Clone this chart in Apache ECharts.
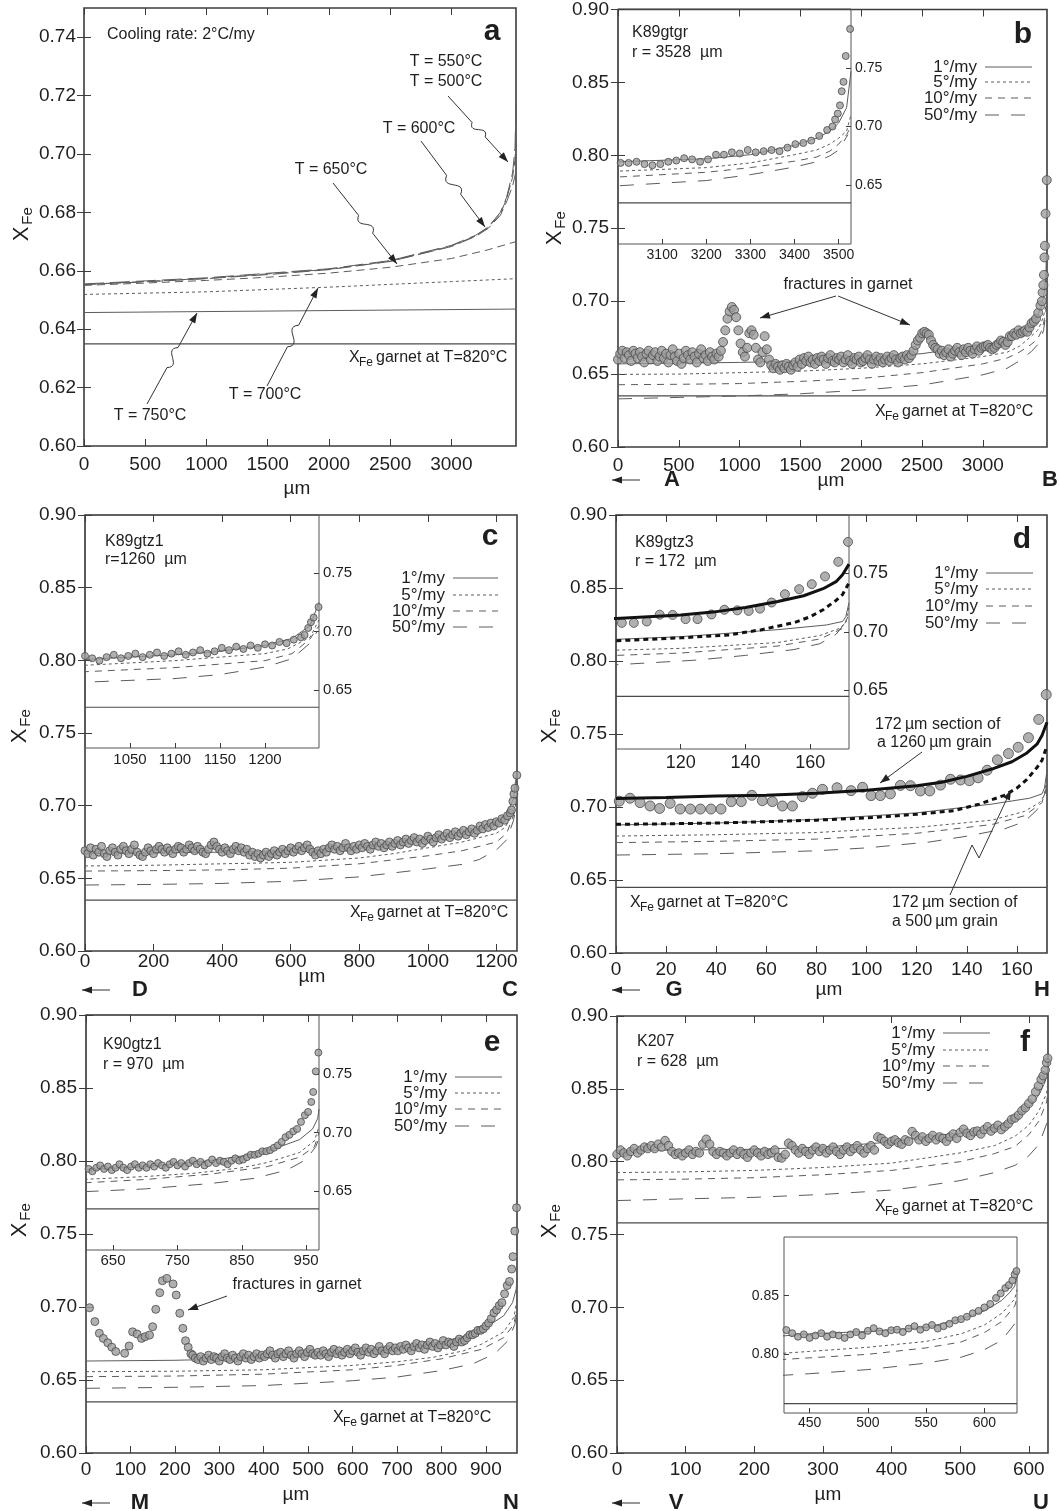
<!DOCTYPE html>
<html>
<head>
<meta charset="utf-8">
<script src="https://cdn.jsdelivr.net/npm/echarts@6/dist/echarts.min.js"></script>
<style>
html, body { margin: 0; padding: 0; background: #fff; }
#chart { width: 1060px; height: 1511px; }
</style>
</head>
<body>
<div id="chart"></div>
<script>
const FONT = '"Liberation Sans", Arial, Helvetica, sans-serif';
const INK = '#1e1e1e', FRAME = '#3c3c3c', CURVE = '#5c5c5c';
const D5 = [3, 3], D10 = [7, 6], D50 = [14, 12];

// ---------- panel a : model profiles, cooling rate 2°C/my
const aGarnet = 0.635;
const a750 = [[0, 0.6457], [3528, 0.6469]];
const a700 = [[0, 0.6519], [1000, 0.6528], [2000, 0.6544], [3000, 0.6563], [3528, 0.6573]];
const a650 = [[0, 0.655], [500, 0.6558], [1000, 0.6567], [1500, 0.6578], [2000, 0.6592], [2500, 0.6612], [3000, 0.6642], [3300, 0.6672], [3528, 0.670]];
const a600 = [[0, 0.6553], [500, 0.6562], [1000, 0.6573], [1500, 0.6587], [2000, 0.6604], [2500, 0.6632], [3000, 0.6683], [3200, 0.6718], [3300, 0.6745], [3400, 0.679], [3450, 0.6835], [3500, 0.689], [3528, 0.694]];
const a550 = [[0, 0.6553], [1000, 0.6574], [2000, 0.6605], [2500, 0.6633], [3000, 0.6685], [3200, 0.672], [3300, 0.6748], [3400, 0.6795], [3450, 0.6845], [3500, 0.692], [3520, 0.698], [3528, 0.706]];
const a500 = [[0, 0.6555], [1000, 0.6576], [2000, 0.6607], [2500, 0.6635], [3000, 0.6687], [3200, 0.6722], [3300, 0.675], [3400, 0.680], [3450, 0.685], [3500, 0.6935], [3520, 0.702], [3528, 0.718]];

// ---------- panel b : K89gtgr, r = 3528 µm
const bGarnet = 0.635;
const b1 = [[0, 0.657], [500, 0.6575], [1000, 0.658], [1500, 0.659], [2000, 0.661], [2500, 0.664], [3000, 0.670], [3200, 0.6725], [3300, 0.676], [3400, 0.684], [3450, 0.690], [3480, 0.696], [3500, 0.703], [3518, 0.716], [3528, 0.747]];
const b5 = [[0, 0.6498], [500, 0.650], [1000, 0.651], [1500, 0.652], [2000, 0.654], [2500, 0.657], [3000, 0.662], [3200, 0.665], [3300, 0.669], [3400, 0.676], [3450, 0.680], [3480, 0.685], [3500, 0.690], [3518, 0.696], [3528, 0.710]];
const b10 = [[0, 0.6427], [500, 0.643], [1000, 0.6435], [1500, 0.645], [2000, 0.647], [2500, 0.651], [3000, 0.657], [3200, 0.661], [3300, 0.665], [3400, 0.6705], [3450, 0.674], [3480, 0.679], [3500, 0.685], [3518, 0.693], [3528, 0.700]];
const b50 = [[0, 0.633], [500, 0.634], [1000, 0.635], [1500, 0.6365], [2000, 0.639], [2500, 0.6425], [3000, 0.6495], [3200, 0.654], [3300, 0.659], [3400, 0.6655], [3450, 0.670], [3480, 0.675], [3500, 0.680], [3521, 0.693]];
const bStep = 18;
const bY = [
  0.660, 0.664, 0.666, 0.661, 0.665, 0.663, 0.659, 0.666, 0.664, 0.661,
  0.665, 0.662, 0.658, 0.664, 0.666, 0.660, 0.663, 0.665, 0.659, 0.662,
  0.666, 0.661, 0.664, 0.658, 0.663, 0.667, 0.662, 0.659, 0.664, 0.657,
  0.661, 0.666, 0.663, 0.660, 0.665, 0.662, 0.658, 0.664, 0.667, 0.661,
  0.663, 0.659, 0.665, 0.662, 0.660, 0.664, 0.662, 0.666,
  0.672, 0.680, 0.688, 0.693, 0.696, 0.694, 0.689, 0.680, 0.671, 0.665,
  0.662, 0.668, 0.678, 0.680, 0.677, 0.668, 0.660, 0.658, 0.665, 0.676, 0.667, 0.660,
  0.656, 0.654, 0.657, 0.655, 0.653, 0.656, 0.654, 0.657, 0.655, 0.653, 0.656, 0.658, 0.655,
  0.660, 0.657, 0.661, 0.659, 0.662, 0.658, 0.660, 0.657, 0.661, 0.659,
  0.662, 0.660, 0.657, 0.661, 0.663, 0.659, 0.658, 0.661, 0.660, 0.662,
  0.658, 0.660, 0.663, 0.659, 0.657, 0.661, 0.660, 0.662, 0.658, 0.659,
  0.661, 0.663, 0.660, 0.657, 0.660, 0.662, 0.659, 0.661, 0.658, 0.660,
  0.662, 0.659, 0.661, 0.663, 0.660, 0.658, 0.661, 0.662, 0.660, 0.663, 0.661,
  0.663, 0.666, 0.670, 0.673, 0.675, 0.678, 0.679, 0.678, 0.677, 0.673, 0.670, 0.668,
  0.667, 0.664, 0.666, 0.663, 0.665, 0.667, 0.662, 0.664, 0.666, 0.668,
  0.665, 0.663, 0.667, 0.665, 0.668, 0.666, 0.664, 0.667, 0.669, 0.666, 0.668,
  0.669, 0.669, 0.670, 0.668, 0.667, 0.668, 0.670, 0.671, 0.673, 0.672,
  0.670, 0.672, 0.676, 0.676, 0.678, 0.677, 0.680, 0.678, 0.679, 0.680,
  0.679, 0.682, 0.685, 0.686, 0.688, 0.692, 0.697
];
const bRim = [[3486, 0.700], [3492, 0.706], [3498, 0.711], [3503, 0.718], [3507, 0.730], [3511, 0.738], [3516, 0.760], [3526, 0.783]];

// ---------- panel c : K89gtz1, r = 1260 µm
const cGarnet = 0.635;
const c1 = [[0, 0.667], [200, 0.6675], [400, 0.668], [600, 0.669], [800, 0.671], [1000, 0.676], [1100, 0.680], [1150, 0.683], [1200, 0.688], [1230, 0.694], [1250, 0.705], [1260, 0.725]];
const c5 = [[0, 0.6585], [200, 0.659], [400, 0.660], [600, 0.661], [800, 0.664], [900, 0.667], [1000, 0.671], [1100, 0.675], [1200, 0.681], [1225, 0.685], [1250, 0.695], [1260, 0.710]];
const c10 = [[0, 0.655], [200, 0.6553], [400, 0.6558], [600, 0.657], [800, 0.660], [1000, 0.6655], [1100, 0.669], [1200, 0.675], [1230, 0.681], [1250, 0.6935], [1260, 0.705]];
const c50 = [[0, 0.6454], [200, 0.6458], [400, 0.6465], [600, 0.648], [800, 0.651], [1000, 0.6565], [1100, 0.6596], [1150, 0.663], [1200, 0.6695], [1230, 0.6766], [1250, 0.690], [1258, 0.700]];
const cStep = 8;
const cY = [
  0.669, 0.667, 0.671, 0.666, 0.670, 0.668, 0.672, 0.667, 0.665, 0.669,
  0.671, 0.668, 0.666, 0.670, 0.672, 0.669, 0.667, 0.670, 0.673, 0.668,
  0.666, 0.665, 0.668, 0.671, 0.669, 0.667, 0.670, 0.672, 0.670, 0.668,
  0.671, 0.669, 0.667, 0.670, 0.672, 0.671, 0.668, 0.670, 0.673, 0.671,
  0.669, 0.672, 0.670, 0.668, 0.667, 0.670, 0.673, 0.675, 0.672, 0.670,
  0.668, 0.671, 0.669, 0.667, 0.670, 0.672, 0.669, 0.671, 0.668, 0.670,
  0.666, 0.668, 0.665, 0.667, 0.664, 0.666, 0.668, 0.665, 0.667, 0.669,
  0.666, 0.668, 0.670, 0.667, 0.669, 0.671, 0.668, 0.670, 0.672, 0.669,
  0.671, 0.673, 0.670, 0.668, 0.666, 0.669, 0.667, 0.670, 0.668, 0.671,
  0.673, 0.670, 0.672, 0.669, 0.671, 0.674, 0.671, 0.669, 0.672, 0.670,
  0.673, 0.671, 0.674, 0.672, 0.670, 0.673, 0.675, 0.672, 0.674, 0.671,
  0.673, 0.675, 0.672, 0.674, 0.676, 0.673, 0.675, 0.677, 0.674, 0.676,
  0.678, 0.675, 0.677, 0.674, 0.676, 0.679, 0.677, 0.675, 0.678, 0.680,
  0.677, 0.679, 0.681, 0.678, 0.680, 0.682, 0.679, 0.681, 0.683, 0.680,
  0.682, 0.684, 0.681, 0.683, 0.686, 0.684, 0.687, 0.685, 0.688, 0.686,
  0.689, 0.688, 0.691, 0.690, 0.693, 0.695
];
const cRim = [[1244, 0.697], [1248, 0.703], [1251, 0.708], [1254, 0.712], [1259.5, 0.721]];

// ---------- panel d : K89gtz3, r = 172 µm
const dGarnet = 0.645;
const dGrain1260 = [[0, 0.7059], [20, 0.7065], [40, 0.7075], [60, 0.708], [80, 0.7095], [100, 0.7115], [120, 0.7145], [130, 0.717], [140, 0.721], [150, 0.726], [158, 0.731], [164, 0.737], [168, 0.743], [170, 0.749], [172, 0.758]];
const dGrain500 = [[0, 0.6881], [20, 0.6885], [40, 0.689], [60, 0.690], [80, 0.691], [100, 0.6925], [120, 0.695], [135, 0.6975], [145, 0.702], [155, 0.708], [160, 0.713], [164, 0.719], [168, 0.727], [170, 0.732], [172, 0.742]];
const d1 = [[0, 0.6877], [40, 0.689], [80, 0.6915], [120, 0.696], [150, 0.702], [165, 0.706], [170, 0.709], [171, 0.713], [172, 0.725]];
const d5 = [[0, 0.6801], [40, 0.681], [80, 0.6825], [100, 0.6845], [120, 0.686], [150, 0.691], [163, 0.697], [169, 0.703], [171, 0.708], [172, 0.722]];
const d10 = [[0, 0.6756], [40, 0.6765], [80, 0.678], [100, 0.680], [120, 0.682], [150, 0.688], [163, 0.694], [170, 0.703], [172, 0.715]];
const d50 = [[0, 0.6671], [40, 0.668], [80, 0.670], [100, 0.672], [125, 0.676], [140, 0.680], [155, 0.685], [163, 0.690], [168, 0.698], [172, 0.712]];
const dPts = [
  [1.3, 0.704], [5.6, 0.706], [9.6, 0.703], [13.6, 0.7007], [17.4, 0.699], [21.6, 0.7025], [25.6, 0.6986], [29.7, 0.6986],
  [33.7, 0.6986], [37.9, 0.6986], [41.9, 0.6986], [46, 0.7037], [50, 0.7037], [54.2, 0.708], [58.4, 0.7043], [62.4, 0.7037],
  [66.4, 0.7007], [70.4, 0.7007], [74.4, 0.7071], [78.4, 0.7094], [82.4, 0.7121], [88.2, 0.7132], [93.8, 0.7112], [98.4, 0.7135],
  [101.8, 0.7078], [105.5, 0.7078], [109.5, 0.709], [113.5, 0.7148], [117.5, 0.7146], [121.5, 0.711], [125.2, 0.711], [129.5, 0.715],
  [133.5, 0.719], [137.5, 0.7185], [141, 0.718], [144.5, 0.720], [148.1, 0.7252], [152.2, 0.7323], [156.6, 0.7366], [160.5, 0.7409],
  [164.6, 0.7475], [168.7, 0.760], [171.7, 0.777]
];

// ---------- panel e : K90gtz1, r = 970 µm
const eGarnet = 0.635;
const e1 = [[0, 0.663], [200, 0.6635], [400, 0.665], [600, 0.668], [700, 0.671], [800, 0.676], [850, 0.680], [900, 0.686], [940, 0.694], [960, 0.703], [968, 0.712], [970, 0.720]];
const e5 = [[0, 0.6557], [200, 0.656], [400, 0.657], [600, 0.660], [700, 0.6625], [780, 0.6655], [850, 0.670], [890, 0.6745], [940, 0.683], [963, 0.693], [970, 0.705]];
const e10 = [[0, 0.6523], [200, 0.6527], [400, 0.654], [600, 0.657], [700, 0.660], [800, 0.6645], [890, 0.671], [940, 0.679], [963, 0.688], [970, 0.700]];
const e50 = [[0, 0.6443], [200, 0.645], [400, 0.6462], [600, 0.6495], [700, 0.652], [800, 0.6565], [870, 0.661], [920, 0.668], [950, 0.677], [965, 0.688], [970, 0.695]];
const eLeft = [[8, 0.6995], [20, 0.690], [30, 0.682], [39, 0.6785], [49, 0.6755], [58, 0.6725], [67, 0.6695], [87, 0.6683], [97, 0.6733],
  [105, 0.683], [115, 0.6815], [125, 0.6785], [133, 0.6797], [143, 0.6808], [150, 0.6865], [157, 0.6984], [166, 0.7098], [172, 0.718],
  [182, 0.7196], [196, 0.7158], [203, 0.7082], [211, 0.6957], [218, 0.6854], [224, 0.6769], [230, 0.6724], [236, 0.668]];
const eStart = 240, eStep = 6;
const eY = [
  0.667, 0.665, 0.664, 0.666, 0.663, 0.665, 0.667, 0.664, 0.666, 0.665,
  0.663, 0.666, 0.668, 0.665, 0.664, 0.667, 0.665, 0.663, 0.666, 0.668,
  0.665, 0.667, 0.664, 0.666, 0.668, 0.665, 0.667,
  0.666, 0.668, 0.670, 0.667, 0.665, 0.668, 0.669, 0.666, 0.668, 0.670,
  0.667, 0.665, 0.668, 0.670, 0.668, 0.666, 0.669, 0.671, 0.668, 0.667,
  0.669, 0.667, 0.670, 0.668, 0.666, 0.669, 0.671, 0.668, 0.670, 0.667,
  0.669, 0.671, 0.668, 0.670, 0.672, 0.669, 0.667, 0.670, 0.672, 0.669,
  0.671, 0.668, 0.670, 0.673, 0.670, 0.668, 0.671, 0.673, 0.670, 0.672,
  0.670, 0.673, 0.671, 0.674, 0.672, 0.670, 0.673, 0.675, 0.672, 0.674,
  0.671, 0.674, 0.676, 0.673, 0.675, 0.672, 0.674, 0.677, 0.674, 0.676,
  0.675, 0.673, 0.676, 0.678, 0.676,
  0.677, 0.679, 0.681, 0.681, 0.682, 0.684, 0.684, 0.685, 0.687, 0.689, 0.692, 0.696, 0.698, 0.701, 0.703
];
const eRim = [[942, 0.709], [948, 0.7147], [953, 0.7175], [958, 0.726], [961, 0.7345], [965, 0.752], [969, 0.768]];

// ---------- panel f : K207, r = 628 µm
const fGarnet = 0.758;
const f1 = [[0, 0.8075], [100, 0.808], [200, 0.8085], [300, 0.810], [400, 0.8135], [450, 0.8175], [500, 0.8195], [550, 0.823], [580, 0.830], [600, 0.837], [615, 0.846], [622, 0.853], [626, 0.858], [628, 0.866]];
const f5 = [[0, 0.7925], [100, 0.793], [200, 0.794], [300, 0.796], [400, 0.799], [450, 0.8025], [500, 0.806], [550, 0.811], [580, 0.8175], [600, 0.825], [615, 0.835], [626, 0.847], [628, 0.855]];
const f10 = [[0, 0.7875], [100, 0.788], [200, 0.789], [300, 0.791], [400, 0.794], [450, 0.797], [500, 0.800], [550, 0.8055], [580, 0.8105], [600, 0.8185], [615, 0.828], [626, 0.841], [628, 0.848]];
const f50 = [[0, 0.7733], [100, 0.7745], [200, 0.7755], [300, 0.7775], [400, 0.7805], [450, 0.7835], [500, 0.787], [550, 0.7925], [580, 0.7975], [600, 0.804], [615, 0.812], [626, 0.826], [628, 0.835]];
const fStep = 5;
const fY = [
  0.805, 0.808, 0.806, 0.804, 0.807, 0.809, 0.806, 0.808, 0.810, 0.809,
  0.811, 0.809, 0.812, 0.810, 0.8145, 0.811, 0.807, 0.805, 0.806, 0.804,
  0.806, 0.808, 0.805, 0.807, 0.806, 0.812, 0.8154, 0.812, 0.807, 0.805,
  0.807, 0.806, 0.804, 0.806, 0.808, 0.805, 0.807, 0.805, 0.803, 0.806,
  0.808, 0.806, 0.804, 0.807, 0.805, 0.806, 0.808, 0.803, 0.8025, 0.805,
  0.8127, 0.811, 0.808, 0.806, 0.809, 0.807, 0.805, 0.808, 0.810, 0.807,
  0.809, 0.806, 0.808, 0.810, 0.807, 0.805, 0.808, 0.810, 0.807, 0.809,
  0.811, 0.808, 0.806, 0.809, 0.811, 0.808, 0.817, 0.816, 0.814, 0.812,
  0.814, 0.815, 0.813, 0.812, 0.815, 0.814, 0.8207, 0.818, 0.815, 0.817,
  0.814, 0.816, 0.818, 0.815, 0.817, 0.816, 0.814, 0.817, 0.819, 0.816,
  0.820, 0.8223, 0.8195, 0.818, 0.8205, 0.821, 0.819, 0.822, 0.824, 0.821,
  0.823, 0.825, 0.822, 0.824, 0.826, 0.829, 0.830, 0.832, 0.835, 0.837,
  0.840
];
const fRim = [[605, 0.843], [610, 0.848], [614, 0.852], [618, 0.8565], [621, 0.859], [624, 0.863], [626, 0.868], [627.5, 0.871]];

// tick values
const ticksA_x = [0, 500, 1000, 1500, 2000, 2500, 3000];
const ticksA_y = [0.60, 0.62, 0.64, 0.66, 0.68, 0.70, 0.72, 0.74];
const ticksMain_y = [0.60, 0.65, 0.70, 0.75, 0.80, 0.85, 0.90];
const ticksInset_y = [0.65, 0.70, 0.75];

const bPts = bY.map((v, i) => [i * bStep, v]).concat(bRim);
const cPts = cY.map((v, i) => [i * cStep, v]).concat(cRim);
const ePts = eLeft.concat(eY.map((v, i) => [eStart + i * eStep, v]), eRim);
const fPts = fY.map((v, i) => [i * fStep, v]).concat(fRim);

const grids = [], xAxes = [], yAxes = [], series = [], graphics = [];

function panel(p) {
  const gi = grids.length;
  grids.push({ left: p.box[0], top: p.box[1], width: p.box[2], height: p.box[3], show: true,
    borderColor: p.inset ? '#555' : FRAME, borderWidth: p.inset ? 1 : 1.6, backgroundColor: 'transparent' });
  const tick = vals => ({ show: true, inside: true, length: p.inset ? 5 : 7, customValues: vals, lineStyle: { color: FRAME, width: 1 } });
  const lab = (vals, m, f) => ({ show: true, customValues: vals, margin: m, fontSize: p.fs, fontFamily: FONT, color: INK, formatter: f });
  const ax = { x: xAxes.length, y: yAxes.length };
  xAxes.push({ gridIndex: gi, type: 'value', min: p.x[0], max: p.x[1], position: 'bottom',
    axisLine: { show: false }, splitLine: { show: false }, axisTick: tick(p.xt), axisLabel: lab(p.xt, p.xm, v => String(v)) });
  yAxes.push({ gridIndex: gi, type: 'value', min: p.y[0], max: p.y[1], position: p.yPos || 'left',
    axisLine: { show: false }, splitLine: { show: false }, axisTick: tick(p.yt), axisLabel: lab(p.yt, p.ym, v => v.toFixed(2)) });
  if (!p.inset) {
    xAxes.push({ gridIndex: gi, type: 'value', min: p.x[0], max: p.x[1], position: 'top',
      axisLine: { show: false }, splitLine: { show: false }, axisTick: tick(p.xt), axisLabel: { show: false } });
    yAxes.push({ gridIndex: gi, type: 'value', min: p.y[0], max: p.y[1], position: 'right',
      axisLine: { show: false }, splitLine: { show: false }, axisTick: tick(p.yt), axisLabel: { show: false } });
  }
  ax.xr = p.x;
  return ax;
}

function line(ax, data, type, width, color, z) {
  series.push({ type: 'line', xAxisIndex: ax.x, yAxisIndex: ax.y, data: data, showSymbol: false, symbol: 'none',
    clip: true, silent: true, animation: false, z: z || 3,
    lineStyle: { color: color || CURVE, width: width || 1, type: type || 'solid' } });
}
function garnet(ax, g) { line(ax, [[ax.xr[0], g], [ax.xr[1], g]], 'solid', 1.2, '#4a4a4a'); }
function dots(ax, data, size) {
  series.push({ type: 'scatter', xAxisIndex: ax.x, yAxisIndex: ax.y, data: data, symbolSize: size, clip: true,
    silent: true, animation: false, z: 4, itemStyle: { color: '#9c9c9c', borderColor: '#4a4a4a', borderWidth: 1 } });
}
function models(ax, c1, c5, c10, c50) {
  line(ax, c50, D50); line(ax, c10, D10); line(ax, c5, D5); line(ax, c1, 'solid');
}

// ---------- graphics helpers (annotations)
function txt(x, y, s, o) {
  o = o || {};
  const st = { text: s, fill: INK, fontSize: o.size || 16, fontFamily: FONT, fontWeight: o.bold ? 'bold' : 'normal',
    align: o.align || 'left', verticalAlign: 'middle', textAlign: o.align || 'left', textVerticalAlign: 'middle' };
  graphics.push({ type: 'text', x: x, y: y, rotation: o.rot || 0, style: st, z: 100, silent: true });
}
function head(x, y, ang) {
  const len = 10, w = 3.5;
  const bx = x - Math.cos(ang) * len, by = y - Math.sin(ang) * len;
  const nx = -Math.sin(ang) * w, ny = Math.cos(ang) * w;
  graphics.push({ type: 'polygon', shape: { points: [[x, y], [bx + nx, by + ny], [bx - nx, by - ny]] }, style: { fill: '#222' }, z: 100, silent: true });
}
function seg(x1, y1, x2, y2) {
  graphics.push({ type: 'line', shape: { x1: x1, y1: y1, x2: x2, y2: y2 }, style: { stroke: '#333', lineWidth: 1 }, z: 100, silent: true });
}
function arrow(x1, y1, x2, y2) {
  seg(x1, y1, x2, y2);
  head(x2, y2, Math.atan2(y2 - y1, x2 - x1));
}
function wavy(x1, y1, x2, y2) {
  const dx = x2 - x1, dy = y2 - y1, L = Math.hypot(dx, dy);
  const ux = dx / L, uy = dy / L, nx = -uy, ny = ux, a = L * 0.13;
  const A = [x1 + dx * 0.40, y1 + dy * 0.40], B = [x1 + dx * 0.62, y1 + dy * 0.62];
  seg(x1, y1, A[0], A[1]);
  graphics.push({ type: 'bezierCurve', shape: { x1: A[0], y1: A[1], x2: B[0], y2: B[1],
    cpx1: A[0] + ux * L * 0.08 + nx * a, cpy1: A[1] + uy * L * 0.08 + ny * a,
    cpx2: B[0] - ux * L * 0.08 - nx * a, cpy2: B[1] - uy * L * 0.08 - ny * a },
    style: { stroke: '#333', lineWidth: 1, fill: null }, z: 100, silent: true });
  seg(B[0], B[1], x2, y2);
  head(x2, y2, Math.atan2(dy, dx));
}
function xfe(cx, cy) {
  txt(cx, cy + 8, 'X', { size: 22, align: 'center', rot: Math.PI / 2 });
  txt(cx + 6, cy - 10, 'Fe', { size: 15, align: 'center', rot: Math.PI / 2 });
}
function garnetLabel(x, y) {
  txt(x, y, 'X', { size: 16 });
  txt(x + 10, y + 5, 'Fe', { size: 12 });
  txt(x + 27, y, 'garnet at T=820°C', { size: 16 });
}
function legend(xr, x1, x2, ys) {
  const names = ['1°/my', '5°/my', '10°/my', '50°/my'];
  const dash = [null, D5, D10, D50];
  names.forEach((n, i) => {
    txt(xr, ys[i], n, { size: 17, align: 'right' });
    graphics.push({ type: 'line', shape: { x1: x1, y1: ys[i], x2: x2, y2: ys[i] }, style: { stroke: CURVE, lineWidth: 1, lineDash: dash[i] }, z: 100, silent: true });
  });
}
function ends(ax1, ax2, y, left, right, lx, rx) {
  arrow(ax2, y, ax1, y);
  txt(lx, y, left, { size: 22, bold: true, align: 'center' });
  txt(rx, y, right, { size: 22, bold: true, align: 'center' });
}

// ---------- panel a
const pa = panel({ box: [84, 8, 432, 438], x: [0, 3528], y: [0.60, 0.75], xt: ticksA_x, yt: ticksA_y, fs: 19, xm: 9, ym: 8 });
garnet(pa, aGarnet);
line(pa, a750, 'solid');
line(pa, a700, D5);
line(pa, a650, [8, 5]);
line(pa, a600, [16, 5]);
line(pa, a550, [12, 4]);
line(pa, a500, [20, 6]);
txt(107, 35, 'Cooling rate: 2°C/my', { size: 16 });
txt(492, 32, 'a', { size: 30, bold: true, align: 'center' });
txt(446, 62, 'T = 550°C', { size: 16, align: 'center' });
txt(446, 82, 'T = 500°C', { size: 16, align: 'center' });
txt(419, 129, 'T = 600°C', { size: 16, align: 'center' });
txt(331, 170, 'T = 650°C', { size: 16, align: 'center' });
txt(150, 416, 'T = 750°C', { size: 16, align: 'center' });
txt(265, 395, 'T = 700°C', { size: 16, align: 'center' });
wavy(448, 96, 508, 162);
wavy(421, 141, 485, 227);
wavy(333, 183, 397, 264);
wavy(147, 404, 197, 313);
wavy(267, 386, 318, 288);
garnetLabel(349, 358);
xfe(22, 226);
txt(297, 489, 'µm', { size: 19, align: 'center' });

// ---------- panel b
const pb = panel({ box: [618, 9, 429, 438], x: [0, 3528], y: [0.60, 0.90], xt: ticksA_x, yt: ticksMain_y, fs: 19, xm: 9, ym: 9 });
const pbI = panel({ inset: true, box: [618, 9, 233, 235], x: [3000, 3528], y: [0.60, 0.80], xt: [3100, 3200, 3300, 3400, 3500], yt: ticksInset_y, yPos: 'right', fs: 14, xm: 4, ym: 4 });
[pb, pbI].forEach(ax => { garnet(ax, bGarnet); models(ax, b1, b5, b10, b50); });
dots(pb, bPts, 9);
dots(pbI, bPts, 7);
txt(632, 33, 'K89gtgr', { size: 16 });
txt(632, 53, 'r = 3528  µm', { size: 16 });
txt(1023, 35, 'b', { size: 30, bold: true, align: 'center' });
legend(977, 985, 1032, [67, 82, 98, 115]);
txt(848, 285, 'fractures in garnet', { size: 16, align: 'center' });
arrow(836, 296, 760, 318);
arrow(838, 296, 910, 325);
garnetLabel(875, 412);
xfe(555, 230);
txt(831, 481, 'µm', { size: 19, align: 'center' });
ends(612, 640, 480, 'A', 'B', 672, 1050);

// ---------- panel c
const pc = panel({ box: [85, 515, 432, 436], x: [0, 1260], y: [0.60, 0.90], xt: [0, 200, 400, 600, 800, 1000, 1200], yt: ticksMain_y, fs: 19, xm: 1, ym: 9 });
const pcI = panel({ inset: true, box: [85, 515, 234, 233], x: [1000, 1260], y: [0.60, 0.80], xt: [1050, 1100, 1150, 1200], yt: ticksInset_y, yPos: 'right', fs: 15, xm: 4, ym: 4 });
[pc, pcI].forEach(ax => { garnet(ax, cGarnet); models(ax, c1, c5, c10, c50); });
dots(pc, cPts, 8);
dots(pcI, cPts, 7);
txt(105, 542, 'K89gtz1', { size: 16 });
txt(105, 560, 'r=1260  µm', { size: 16 });
txt(490, 537, 'c', { size: 30, bold: true, align: 'center' });
legend(445, 453, 498, [578, 595, 611, 627]);
garnetLabel(350, 913);
xfe(20, 728);
txt(312, 977, 'µm', { size: 19, align: 'center' });
ends(82, 110, 990, 'D', 'C', 140, 510);

// ---------- panel d
const pd = panel({ box: [616, 515, 431, 438], x: [0, 172], y: [0.60, 0.90], xt: [0, 20, 40, 60, 80, 100, 120, 140, 160], yt: ticksMain_y, fs: 19, xm: 7, ym: 9 });
const pdI = panel({ inset: true, box: [616, 515, 233, 234], x: [100, 172], y: [0.60, 0.80], xt: [120, 140, 160], yt: ticksInset_y, yPos: 'right', fs: 18, xm: 5, ym: 4 });
[pd, pdI].forEach(ax => {
  garnet(ax, dGarnet);
  models(ax, d1, d5, d10, d50);
  line(ax, dGrain500, [5, 4], 3, '#111', 6);
  line(ax, dGrain1260, 'solid', 3, '#111', 6);
});
dots(pd, dPts, 10);
dots(pdI, dPts, 9);
txt(635, 543, 'K89gtz3', { size: 16 });
txt(635, 562, 'r = 172  µm', { size: 16 });
txt(1022, 540, 'd', { size: 30, bold: true, align: 'center' });
legend(978, 986, 1033, [573, 589, 606, 623]);
txt(875, 725, '172\u2009µm section of', { size: 16 });
txt(877, 743, 'a 1260\u2009µm grain', { size: 16 });
arrow(922, 752, 880, 783);
txt(892, 903, '172\u2009µm section of', { size: 16 });
txt(892, 922, 'a 500\u2009µm grain', { size: 16 });
seg(950, 895, 972, 845);
seg(972, 845, 979, 858);
arrow(979, 858, 1011, 790);
garnetLabel(630, 903);
xfe(550, 728);
txt(829, 990, 'µm', { size: 19, align: 'center' });
ends(612, 640, 990, 'G', 'H', 674, 1042);

// ---------- panel e
const pe = panel({ box: [86, 1015, 431, 438], x: [0, 970], y: [0.60, 0.90], xt: [0, 100, 200, 300, 400, 500, 600, 700, 800, 900], yt: ticksMain_y, fs: 19, xm: 7, ym: 9 });
const peI = panel({ inset: true, box: [86, 1015, 233, 235], x: [608, 970], y: [0.60, 0.80], xt: [650, 750, 850, 950], yt: ticksInset_y, yPos: 'right', fs: 15, xm: 3, ym: 4 });
[pe, peI].forEach(ax => { garnet(ax, eGarnet); models(ax, e1, e5, e10, e50); });
dots(pe, ePts, 8);
dots(peI, ePts, 7);
txt(103, 1045, 'K90gtz1', { size: 16 });
txt(103, 1065, 'r = 970  µm', { size: 16 });
txt(492, 1043, 'e', { size: 30, bold: true, align: 'center' });
legend(447, 455, 502, [1077, 1093, 1109, 1126]);
txt(297, 1285, 'fractures in garnet', { size: 16, align: 'center' });
arrow(227, 1296, 188, 1310);
garnetLabel(333, 1418);
xfe(20, 1222);
txt(296, 1495, 'µm', { size: 19, align: 'center' });
ends(82, 110, 1503, 'M', 'N', 140, 511);

// ---------- panel f
const pf = panel({ box: [617, 1016, 431, 437], x: [0, 628], y: [0.60, 0.90], xt: [0, 100, 200, 300, 400, 500, 600], yt: ticksMain_y, fs: 19, xm: 7, ym: 9 });
const pfI = panel({ inset: true, box: [784, 1237, 233, 176], x: [428, 628], y: [0.75, 0.90], xt: [450, 500, 550, 600], yt: [0.80, 0.85], yPos: 'left', fs: 14, xm: 3, ym: 5 });
[pf, pfI].forEach(ax => { garnet(ax, fGarnet); models(ax, f1, f5, f10, f50); });
dots(pf, fPts, 8.5);
dots(pfI, fPts, 7);
txt(637, 1042, 'K207', { size: 16 });
txt(637, 1062, 'r = 628  µm', { size: 16 });
txt(1025, 1043, 'f', { size: 30, bold: true, align: 'center' });
legend(935, 943, 990, [1033, 1050, 1066, 1083]);
garnetLabel(875, 1207);
xfe(550, 1223);
txt(828, 1495, 'µm', { size: 19, align: 'center' });
ends(612, 640, 1503, 'V', 'U', 676, 1041);

const chart = echarts.init(document.getElementById('chart'), null, { renderer: 'canvas' });
chart.setOption({
  animation: false,
  backgroundColor: '#fff',
  textStyle: { fontFamily: FONT },
  grid: grids,
  xAxis: xAxes,
  yAxis: yAxes,
  series: series,
  graphic: { elements: graphics }
});
</script>
</body>
</html>
